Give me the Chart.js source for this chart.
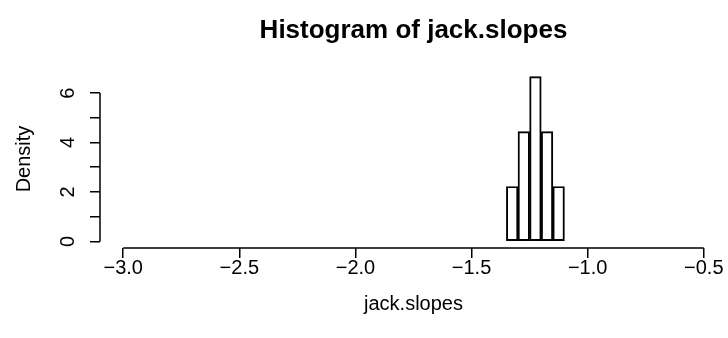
<!DOCTYPE html>
<html>
<head>
<meta charset="utf-8">
<script src="https://cdn.jsdelivr.net/npm/chart.js@4.4.1/dist/chart.umd.min.js"></script>
<style>
  html, body { margin: 0; padding: 0; background: #fff; }
  #wrap { width: 728px; height: 338px; }
</style>
</head>
<body>
<div id="wrap"><canvas id="hist" width="728" height="338"></canvas></div>
<script>
// histogram of jack.slopes: bin edges and densities
const breaks = [-1.35, -1.30, -1.25, -1.20, -1.15, -1.10];
const density = [2.222, 4.444, 6.667, 4.444, 2.222];
const xTicks = [-3.0, -2.5, -2.0, -1.5, -1.0, -0.5];
const yTicks = [0, 1, 2, 3, 4, 5, 6];
const yLabels = [0, 2, 4, 6];

const FONT = '"Liberation Sans", Arial, Helvetica, sans-serif';
const fmt = v => (v < 0 ? '\u2212' : '') + Math.abs(v).toFixed(1);

// base-R style axes, labels and titles
const rAxes = {
  id: 'rAxes',
  afterDraw(chart) {
    const { ctx, chartArea: a, scales: { x, y } } = chart;
    ctx.save();
    ctx.strokeStyle = '#000';
    ctx.lineWidth = 1.5;
    ctx.beginPath();
    ctx.moveTo(x.getPixelForValue(xTicks[0]), a.bottom);
    ctx.lineTo(x.getPixelForValue(xTicks[xTicks.length - 1]), a.bottom);
    ctx.moveTo(a.left, y.getPixelForValue(yTicks[0]));
    ctx.lineTo(a.left, y.getPixelForValue(yTicks[yTicks.length - 1]));
    ctx.stroke();

    ctx.fillStyle = '#000';
    ctx.font = '20px ' + FONT;
    ctx.textAlign = 'center';
    ctx.textBaseline = 'alphabetic';
    xTicks.forEach(v => ctx.fillText(fmt(v), x.getPixelForValue(v), a.bottom + 26));
    ctx.fillText('jack.slopes', (a.left + a.right) / 2, a.bottom + 62);

    yLabels.forEach(v => {
      ctx.save();
      ctx.translate(a.left - 26, y.getPixelForValue(v));
      ctx.rotate(-Math.PI / 2);
      ctx.fillText(String(v), 0, 0);
      ctx.restore();
    });
    ctx.save();
    ctx.translate(a.left - 70, (a.top + a.bottom) / 2);
    ctx.rotate(-Math.PI / 2);
    ctx.fillText('Density', 0, 0);
    ctx.restore();

    ctx.font = 'bold 26px ' + FONT;
    ctx.fillText('Histogram of jack.slopes', (a.left + a.right) / 2, 38);
    ctx.restore();
  }
};

new Chart(document.getElementById('hist'), {
  type: 'bar',
  data: {
    datasets: [{
      label: 'jack.slopes',
      data: density.map((d, i) => ({ x: (breaks[i] + breaks[i + 1]) / 2, y: d })),
      backgroundColor: 'rgba(0,0,0,0)',
      borderColor: '#000',
      borderWidth: 1.3,
      borderSkipped: false,
      barPercentage: 1,
      categoryPercentage: 1
    }]
  },
  options: {
    responsive: false,
    animation: false,
    devicePixelRatio: 1,
    layout: { padding: { left: 89, right: 1, top: 70, bottom: 0 } },
    plugins: { legend: { display: false }, tooltip: { enabled: false } },
    scales: {
      x: {
        type: 'linear',
        min: -3.1,
        max: -0.4,
        offset: false,
        afterBuildTicks: s => { s.ticks = xTicks.map(v => ({ value: v })); },
        afterFit: s => { s.height = 90; },
        ticks: { display: false },
        border: { display: false },
        grid: { offset: false, drawOnChartArea: false, tickLength: 10, color: '#000', lineWidth: 1.5 }
      },
      y: {
        min: -0.267,
        max: 6.933,
        afterBuildTicks: s => { s.ticks = yTicks.map(v => ({ value: v })); },
        afterFit: s => { s.width = 11; },
        ticks: { display: false },
        border: { display: false },
        grid: { drawOnChartArea: false, tickLength: 10, color: '#000', lineWidth: 1.5 }
      }
    }
  },
  plugins: [rAxes]
});
</script>
</body>
</html>
